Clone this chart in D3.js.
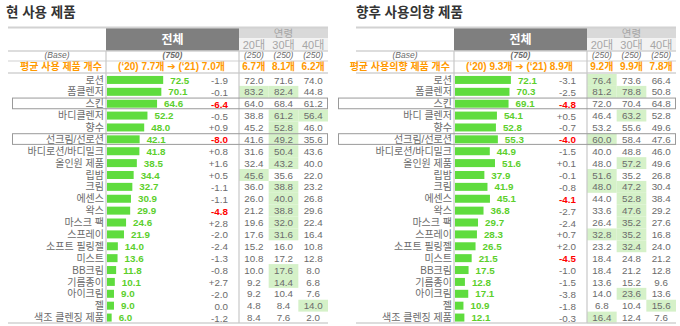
<!DOCTYPE html>
<html lang="ko">
<head>
<meta charset="utf-8">
<script src="https://cdn.jsdelivr.net/npm/d3@7"></script>
<style>
  html, body { margin: 0; padding: 0; background: #fff; }
  svg { display: block; }
</style>
</head>
<body>
<svg id="chart" width="680" height="326"></svg>
<script>
// ---- shared headers ----
const ageGroups = ["20대", "30대", "40대"];
const totalHeader = "전체";
const ageHeader = "연령";
const baseLabel = "(Base)";
const baseTotal = "(750)";
const baseAge = ["(250)", "(250)", "(250)"];

// ---- 현 사용 제품 ----
const currentTitle = "현 사용 제품";
const currentAvgLabel = "평균 사용 제품 개수";
const currentAvgTotal = "(‘20) 7.7개 ➔ (‘21) 7.0개";
const currentAvgAge = ["6.7개", "8.1개", "6.2개"];
const currentLabels = ["로션", "폼클렌저", "스킨", "바디클렌저", "향수", "선크림/선로션", "바디로션/바디밀크",
  "올인원 제품", "립밤", "크림", "에센스", "왁스", "마스크 팩", "스프레이", "소프트 필링젤", "미스트",
  "BB크림", "기름종이", "아이크림", "젤", "색조 클렌징 제품"];
const currentTotal = [72.5, 70.1, 64.6, 52.2, 48.0, 42.1, 41.8, 38.5, 34.4, 32.7, 30.9, 29.9, 24.6, 21.9,
  14.0, 13.6, 11.8, 10.1, 9.0, 9.0, 6.0];
const currentChange = [-1.9, -0.1, -6.4, -0.5, 0.9, -8.0, 0.8, 1.6, 0.5, -1.1, -1.1, -4.8, 2.8, -2.0,
  -2.4, -1.3, -0.8, 2.7, -2.0, 0.0, -1.2];
const current20 = [72.0, 83.2, 64.0, 38.8, 45.2, 41.6, 31.6, 32.4, 45.6, 36.0, 26.0, 21.2, 19.6, 17.6,
  15.2, 10.8, 10.0, 9.2, 9.2, 4.8, 8.4];
const current30 = [71.6, 82.4, 68.4, 61.2, 52.8, 49.2, 50.4, 43.2, 35.6, 38.8, 40.0, 38.8, 32.0, 31.6,
  16.0, 17.2, 17.6, 14.4, 10.4, 8.4, 7.6];
const current40 = [74.0, 44.8, 61.2, 56.4, 46.0, 35.6, 43.6, 40.0, 22.0, 23.2, 26.8, 29.6, 22.4, 16.4,
  10.8, 12.8, 8.0, 6.8, 7.6, 14.0, 2.0];
// rows with a shaded cell, per age group
const currentHigh20 = [1, 8];
const currentHigh30 = [1, 3, 4, 5, 6, 7, 9, 10, 11, 12, 13, 16, 17];
const currentHigh40 = [3, 19];
const currentBoxed = [2, 5];

// ---- 향후 사용의향 제품 ----
const intentTitle = "향후 사용의향 제품";
const intentAvgLabel = "평균 사용의향 제품 개수";
const intentAvgTotal = "(‘20) 9.3개 ➔ (‘21) 8.9개";
const intentAvgAge = ["9.2개", "9.9개", "7.8개"];
const intentLabels = ["로션", "폼클렌저", "스킨", "바디 클렌저", "향수", "선크림/선로션", "바디로션/바디밀크",
  "올인원 제품", "립밤", "크림", "에센스", "왁스", "마스크 팩", "스프레이", "소프트 필링젤", "미스트",
  "BB크림", "기름종이", "아이크림", "젤", "색조 클렌징 제품"];
const intentTotal = [72.1, 70.3, 69.1, 54.1, 52.8, 55.3, 44.9, 51.6, 37.9, 41.9, 45.1, 36.8, 29.7, 28.3,
  26.5, 21.5, 17.5, 12.8, 17.1, 10.9, 12.1];
const intentChange = [-3.1, -2.5, -4.8, 0.5, -0.7, -4.0, -1.5, 0.1, -0.1, -0.8, -4.1, -2.7, -2.4, 0.7,
  2.0, -4.5, -1.0, -1.5, -3.8, -1.8, -0.3];
const intent20 = [76.4, 81.2, 72.0, 46.4, 53.2, 60.0, 40.0, 48.0, 51.6, 48.0, 44.0, 33.6, 26.4, 32.8,
  23.2, 18.4, 18.4, 13.6, 14.0, 6.8, 16.4];
const intent30 = [73.6, 78.8, 70.4, 63.2, 55.6, 58.4, 48.8, 57.2, 35.2, 47.2, 52.8, 47.6, 35.2, 35.2,
  32.4, 24.8, 21.2, 15.2, 23.6, 10.4, 12.4];
const intent40 = [66.4, 50.8, 64.8, 52.8, 49.6, 47.6, 46.0, 49.6, 26.8, 30.4, 38.4, 29.2, 27.6, 16.8,
  24.0, 21.2, 12.8, 9.6, 13.6, 15.6, 7.6];
const intentHigh20 = [0, 1, 5, 8, 9, 13, 20];
const intentHigh30 = [1, 3, 7, 9, 10, 11, 12, 13, 14, 18];
const intentHigh40 = [19];
const intentBoxed = [2, 5];

// ---- styling ----
const FONT = "'Liberation Sans', 'Noto Sans CJK KR', sans-serif";
const KFONT = "'Noto Sans CJK KR', sans-serif";
const C = {
  text: "#6b6b6b", title: "#333", orange: "#ff9900", bar: "#5fdc3e", barText: "#5ccf2c",
  red: "#ff0000", dark: "#7f7f7f", band: "#d9d9d9", band2: "#f2f2f2", rule: "#d2d2d2",
  shade: "#d5f1c8", box: "#9a9a9a"
};

const svg = d3.select("#chart");

const panels = [
  { left: 8, titleX: 6, boxLeft: 12, title: currentTitle, avgLabel: currentAvgLabel, avgTotal: currentAvgTotal,
    avgAge: currentAvgAge, labels: currentLabels, total: currentTotal, change: currentChange,
    ages: [current20, current30, current40], high: [currentHigh20, currentHigh30, currentHigh40],
    boxed: currentBoxed },
  { left: 356, titleX: 356, boxLeft: 338, title: intentTitle, avgLabel: intentAvgLabel, avgTotal: intentAvgTotal,
    avgAge: intentAvgAge, labels: intentLabels, total: intentTotal, change: intentChange,
    ages: [intent20, intent30, intent40], high: [intentHigh20, intentHigh30, intentHigh40],
    boxed: intentBoxed }
];

function fmtChange(v) {
  if (v > 0) return "+" + v.toFixed(1);
  return v.toFixed(1);
}

function drawPanel(p) {
  const g = svg.append("g");
  const labelW = 98, totalW = 133, ageW = 89;
  const xLabel = p.left, xTotal = p.left + labelW, xAge = xTotal + totalW, xEnd = xAge + ageW;
  const yTop = 27.5, yHeadBottom = 51, yBaseBottom = 61, yAvgBottom = 73, yBottom = 323;

  const y = d3.scaleBand().domain(d3.range(p.labels.length)).range([74, 323.5]);
  const rowMid = i => y(i) + y.bandwidth() / 2;
  const xBar = d3.scaleLinear().domain([0, 100]).range([0, 77.5]);
  const xAgeBand = d3.scaleBand().domain(ageGroups).range([xAge, xEnd]);
  const ageMid = a => xAgeBand(a) + xAgeBand.bandwidth() / 2;

  // title
  g.append("text").attr("x", p.titleX).attr("y", 17)
    .attr("font-family", KFONT).attr("font-size", 13.5).attr("font-weight", 700)
    .attr("fill", C.title).text(p.title);

  // header blocks
  g.append("rect").attr("x", xTotal).attr("y", yTop).attr("width", totalW).attr("height", yHeadBottom - yTop)
    .attr("fill", C.dark);
  g.append("text").attr("x", xTotal + totalW / 2).attr("y", 43.5).attr("text-anchor", "middle")
    .attr("font-family", KFONT).attr("font-size", 12).attr("font-weight", 700).attr("fill", "#fff")
    .text(totalHeader);
  g.append("rect").attr("x", xAge).attr("y", yTop).attr("width", ageW).attr("height", 10.8).attr("fill", C.band);
  g.append("rect").attr("x", xAge).attr("y", 38.3).attr("width", ageW).attr("height", yHeadBottom - 38.3)
    .attr("fill", C.band2);
  g.append("text").attr("x", xAge + ageW / 2).attr("y", 37).attr("text-anchor", "middle")
    .attr("font-family", KFONT).attr("font-size", 10.5).attr("fill", "#a6a6a6").text(ageHeader);
  g.selectAll(".ageHead").data(ageGroups).join("text")
    .attr("x", d => ageMid(d)).attr("y", 48.5).attr("text-anchor", "middle")
    .attr("font-family", FONT).attr("font-size", 11).attr("fill", "#a6a6a6").text(d => d);

  // shaded cells
  p.high.forEach((rows, k) => {
    g.selectAll(null).data(rows).join("rect")
      .attr("x", xAgeBand(ageGroups[k])).attr("y", i => y(i))
      .attr("width", xAgeBand.bandwidth()).attr("height", y.bandwidth())
      .attr("fill", C.shade);
  });

  // base row
  g.append("text").attr("x", xLabel + labelW / 2).attr("y", 58.4).attr("text-anchor", "middle")
    .attr("font-family", FONT).attr("font-size", 8.5).attr("font-style", "italic").attr("fill", C.text)
    .text(baseLabel);
  g.append("text").attr("x", xTotal + totalW / 2).attr("y", 58.4).attr("text-anchor", "middle")
    .attr("font-family", FONT).attr("font-size", 8.5).attr("font-style", "italic").attr("font-weight", 700)
    .attr("fill", C.text).text(baseTotal);
  g.selectAll(".baseAge").data(ageGroups).join("text")
    .attr("x", d => ageMid(d)).attr("y", 58.4).attr("text-anchor", "middle")
    .attr("font-family", FONT).attr("font-size", 8.5).attr("font-style", "italic").attr("fill", C.text)
    .text((d, i) => baseAge[i]);

  // average row
  g.append("text").attr("x", xTotal - 4).attr("y", 70.4).attr("text-anchor", "end")
    .attr("font-family", FONT).attr("font-size", 10).attr("font-weight", 700).attr("fill", C.orange)
    .text(p.avgLabel);
  g.append("text").attr("x", xTotal + totalW / 2 - 1).attr("y", 70.4).attr("text-anchor", "middle")
    .attr("font-family", "'Liberation Sans', 'Noto Sans CJK KR', 'DejaVu Sans', sans-serif")
    .attr("font-size", 10).attr("font-weight", 700).attr("fill", C.orange).text(p.avgTotal);
  g.selectAll(".avgAge").data(ageGroups).join("text")
    .attr("x", d => ageMid(d)).attr("y", 70.4).attr("text-anchor", "middle")
    .attr("font-family", FONT).attr("font-size", 10).attr("font-weight", 700).attr("fill", C.orange)
    .text((d, i) => p.avgAge[i]);

  // rules
  const hr = (yy, w) => g.append("line").attr("x1", xLabel).attr("x2", xEnd).attr("y1", yy).attr("y2", yy)
    .attr("stroke", C.rule).attr("stroke-width", w);
  hr(yTop, 2); hr(yHeadBottom, 1.5); hr(yBaseBottom, 1.2); hr(yAvgBottom, 1.5); hr(yBottom, 1.5);
  [xTotal, xAge].forEach(xx => g.append("line").attr("x1", xx).attr("x2", xx)
    .attr("y1", yHeadBottom).attr("y2", yBottom).attr("stroke", "#c8c8c8").attr("stroke-width", 1.2));

  // outlined rows
  g.selectAll(".box").data(p.boxed).join("rect")
    .attr("x", p.boxLeft + 0.5).attr("y", i => y(i) + 0.3)
    .attr("width", xEnd - p.boxLeft - 1).attr("height", y.bandwidth() - 1.2)
    .attr("fill", "none").attr("stroke", C.box).attr("stroke-width", 1);

  const rows = g.selectAll(".row").data(p.labels).join("g");

  rows.append("text").attr("x", xTotal - 2).attr("y", (d, i) => rowMid(i) + 3.6).attr("text-anchor", "end")
    .attr("font-family", FONT).attr("font-size", 10).attr("fill", C.text).text(d => d);

  rows.append("rect").attr("x", xTotal + 1).attr("y", (d, i) => rowMid(i) - 4)
    .attr("width", (d, i) => xBar(p.total[i])).attr("height", 8).attr("fill", C.bar);

  rows.append("text").attr("x", (d, i) => xTotal + 1 + xBar(p.total[i]) + 7).attr("y", (d, i) => rowMid(i) + 3.6)
    .attr("font-family", FONT).attr("font-size", 9.8).attr("font-weight", 700).attr("fill", C.barText)
    .text((d, i) => p.total[i].toFixed(1));

  rows.append("text").attr("x", xTotal + 122).attr("y", (d, i) => rowMid(i) + 4).attr("text-anchor", "end")
    .attr("font-family", FONT).attr("font-size", 9.8)
    .attr("font-weight", (d, i) => p.change[i] <= -4 ? 700 : 400)
    .attr("fill", (d, i) => p.change[i] <= -4 ? C.red : C.text)
    .text((d, i) => fmtChange(p.change[i]));

  ageGroups.forEach((a, k) => {
    rows.append("text").attr("x", ageMid(a)).attr("y", (d, i) => rowMid(i) + 3.6).attr("text-anchor", "middle")
      .attr("font-family", FONT).attr("font-size", 9.8).attr("fill", C.text)
      .text((d, i) => p.ages[k][i].toFixed(1));
  });
}

panels.forEach(drawPanel);
</script>
</body>
</html>
